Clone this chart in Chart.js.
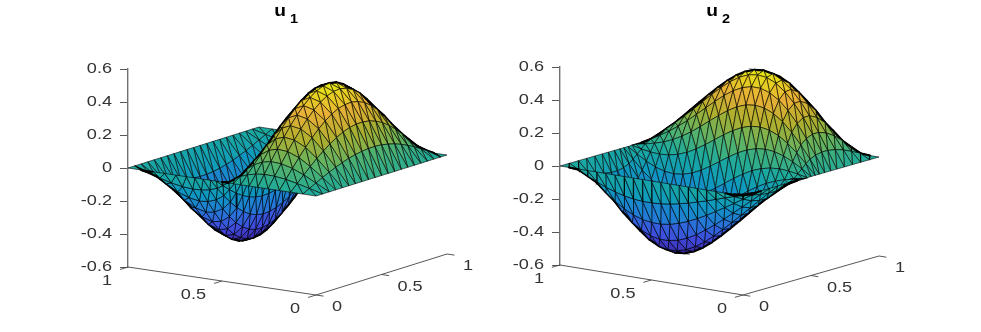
<!DOCTYPE html>
<html>
<head>
<meta charset="utf-8">
<script src="https://cdn.jsdelivr.net/npm/chart.js@4"></script>
<style>
  html, body { margin: 0; background: #fff; }
  canvas { position: absolute; top: 0; }
</style>
</head>
<body>
<canvas id="leftChart" width="490" height="332" style="left:0"></canvas>
<canvas id="rightChart" width="491" height="332" style="left:490px"></canvas>
<script>
// grid positions on the ground axes
const gridPos = [0,.05,.1,.15,.2,.25,.3,.35,.4,.45,.5,.55,.6,.65,.7,.75,.8,.85,.9,.95,1];
// same count of rows, tighter around the middle (u1 first axis, u2 second axis)
const midPos = [0,.07,.135,.195,.255,.31,.355,.4,.44,.47,.5,.53,.56,.6,.645,.69,.745,.805,.865,.93,1];
const zTicks = [-0.6,-0.4,-0.2,0,0.2,0.4,0.6];
const groundTicks = [0,0.5,1];
const groundLabels = ['0','0.5','1'];

// surface heights, one row per x position
const u1 = [
  [0,0,0,0,0,0,0,0,0,0,0,0,0,0,0,0,0,0,0,0,0],
  [0,.021,.042,.062,.082,.099,.115,.129,.139,.147,.151,.152,.149,.141,.130,.115,.096,.075,.051,.026,0],
  [0,.040,.080,.118,.155,.188,.218,.244,.265,.280,.288,.289,.283,.269,.248,.219,.184,.143,.098,.050,0],
  [0,.055,.109,.162,.212,.258,.299,.335,.364,.385,.396,.399,.390,.372,.342,.303,.255,.198,.136,.069,0],
  [0,.064,.127,.188,.246,.300,.349,.391,.426,.451,.466,.470,.461,.439,.405,.359,.302,.235,.161,.082,0],
  [0,.066,.131,.194,.254,.311,.363,.408,.445,.473,.490,.495,.487,.465,.430,.382,.322,.251,.172,.087,0],
  [0,.060,.120,.179,.236,.289,.339,.382,.419,.448,.466,.473,.467,.448,.416,.370,.313,.244,.168,.085,0],
  [0,.048,.096,.144,.191,.236,.278,.317,.351,.378,.396,.405,.403,.389,.363,.325,.276,.216,.149,.076,0],
  [0,.030,.061,.092,.124,.156,.188,.218,.246,.270,.288,.299,.302,.295,.278,.251,.215,.169,.117,.060,0],
  [0,.008,.018,.029,.042,.058,.076,.095,.115,.134,.151,.165,.173,.175,.170,.156,.136,.109,.076,.039,0],
  [0,-.015,-.029,-.040,-.048,-.050,-.048,-.040,-.029,-.015,0,.015,.029,.040,.048,.050,.048,.040,.029,.015,0],
  [0,-.039,-.076,-.109,-.136,-.156,-.170,-.175,-.173,-.165,-.151,-.134,-.115,-.095,-.076,-.058,-.042,-.029,-.018,-.008,0],
  [0,-.060,-.117,-.169,-.215,-.251,-.278,-.295,-.302,-.299,-.288,-.270,-.246,-.218,-.188,-.156,-.124,-.092,-.061,-.030,0],
  [0,-.076,-.149,-.216,-.276,-.325,-.363,-.389,-.403,-.405,-.396,-.378,-.351,-.317,-.278,-.236,-.191,-.144,-.096,-.048,0],
  [0,-.085,-.168,-.244,-.313,-.370,-.416,-.448,-.467,-.473,-.466,-.448,-.419,-.382,-.339,-.289,-.236,-.179,-.120,-.060,0],
  [0,-.087,-.172,-.251,-.322,-.382,-.430,-.465,-.487,-.495,-.490,-.473,-.445,-.408,-.363,-.311,-.254,-.194,-.131,-.066,0],
  [0,-.082,-.161,-.235,-.302,-.359,-.405,-.439,-.461,-.470,-.466,-.451,-.426,-.391,-.349,-.300,-.246,-.188,-.127,-.064,0],
  [0,-.069,-.136,-.198,-.255,-.303,-.342,-.372,-.390,-.399,-.396,-.385,-.364,-.335,-.299,-.258,-.212,-.162,-.109,-.055,0],
  [0,-.050,-.098,-.143,-.184,-.219,-.248,-.269,-.283,-.289,-.288,-.280,-.265,-.244,-.218,-.188,-.155,-.118,-.080,-.040,0],
  [0,-.026,-.051,-.075,-.096,-.115,-.130,-.141,-.149,-.152,-.151,-.147,-.139,-.129,-.115,-.099,-.082,-.062,-.042,-.021,0],
  [0,0,0,0,0,0,0,0,0,0,0,0,0,0,0,0,0,0,0,0,0]
];

const u2 = [
  [0,0,0,0,0,0,0,0,0,0,0,0,0,0,0,0,0,0,0,0,0],
  [0,-.018,-.034,-.046,-.052,-.052,-.044,-.030,-.011,.013,.037,.061,.081,.096,.104,.104,.096,.080,.057,.030,0],
  [0,-.037,-.069,-.093,-.105,-.105,-.090,-.062,-.024,.022,.071,.118,.158,.188,.204,.204,.188,.157,.113,.059,0],
  [0,-.055,-.104,-.140,-.159,-.158,-.137,-.097,-.041,.026,.097,.166,.226,.270,.295,.296,.273,.228,.164,.085,0],
  [0,-.073,-.138,-.186,-.213,-.213,-.187,-.136,-.064,.022,.114,.204,.281,.340,.372,.375,.347,.290,.208,.109,0],
  [0,-.091,-.171,-.232,-.266,-.269,-.239,-.179,-.094,.009,.120,.228,.322,.393,.433,.438,.407,.341,.245,.128,0],
  [0,-.107,-.203,-.275,-.318,-.324,-.292,-.226,-.129,-.012,.114,.238,.346,.429,.477,.485,.452,.379,.273,.143,0],
  [0,-.123,-.232,-.316,-.367,-.377,-.345,-.274,-.170,-.042,.097,.234,.354,.447,.502,.514,.481,.405,.292,.153,0],
  [0,-.136,-.258,-.353,-.411,-.426,-.395,-.322,-.213,-.077,.071,.217,.347,.448,.509,.525,.494,.417,.301,.158,0],
  [0,-.147,-.279,-.383,-.448,-.468,-.440,-.367,-.255,-.116,.037,.189,.326,.433,.500,.520,.492,.416,.302,.158,0],
  [0,-.155,-.294,-.405,-.476,-.500,-.476,-.405,-.294,-.155,0,.155,.294,.405,.476,.500,.476,.405,.294,.155,0],
  [0,-.158,-.302,-.416,-.492,-.520,-.500,-.433,-.326,-.189,-.037,.116,.255,.367,.440,.468,.448,.383,.279,.147,0],
  [0,-.158,-.301,-.417,-.494,-.525,-.509,-.448,-.347,-.217,-.071,.077,.213,.322,.395,.426,.411,.353,.258,.136,0],
  [0,-.153,-.292,-.405,-.481,-.514,-.502,-.447,-.354,-.234,-.097,.042,.170,.274,.345,.377,.367,.316,.232,.123,0],
  [0,-.143,-.273,-.379,-.452,-.485,-.477,-.429,-.346,-.238,-.114,.012,.129,.226,.292,.324,.318,.275,.203,.107,0],
  [0,-.128,-.245,-.341,-.407,-.438,-.433,-.393,-.322,-.228,-.120,-.009,.094,.179,.239,.269,.266,.232,.171,.091,0],
  [0,-.109,-.208,-.290,-.347,-.375,-.372,-.340,-.281,-.204,-.114,-.022,.064,.136,.187,.213,.213,.186,.138,.073,0],
  [0,-.085,-.164,-.228,-.273,-.296,-.295,-.270,-.226,-.166,-.097,-.026,.041,.097,.137,.158,.159,.140,.104,.055,0],
  [0,-.059,-.113,-.157,-.188,-.204,-.204,-.188,-.158,-.118,-.071,-.022,.024,.062,.090,.105,.105,.093,.069,.037,0],
  [0,-.030,-.057,-.080,-.096,-.104,-.104,-.096,-.081,-.061,-.037,-.013,.011,.030,.044,.052,.052,.046,.034,.018,0],
  [0,0,0,0,0,0,0,0,0,0,0,0,0,0,0,0,0,0,0,0,0]
];

// parula colormap stops
const parula = [
  [62,38,168],[70,80,240],[40,130,235],[15,165,210],[30,185,170],
  [100,195,110],[190,190,50],[253,190,60],[249,251,20]
];
const SHADE = 0.92;  // stands in for the much denser black mesh of the reference

function parulaColor(t) {
  const p = Math.min(Math.max(t, 0), 1) * (parula.length - 1);
  const i = Math.min(Math.floor(p), parula.length - 2);
  const c = parula[i].map((v, k) => Math.round((v + (parula[i + 1][k] - v) * (p - i)) * SHADE));
  return 'rgb(' + c.join(',') + ')';
}

const FONT = '"Liberation Sans", Arial, sans-serif';
const ZPX = 165;  // pixels per unit of height

// the reference lettering is wider than the font, so stretch it sideways
function wideText(c, text, x, y, align, sx) {
  c.save();
  c.translate(x, y);
  c.scale(sx, 1);
  c.textAlign = align;
  c.fillText(text, 0, 0);
  c.restore();
}

function drawPanel(id, cfg) {
  // corners of the ground at height 0, page pixels
  const { front, left, right, zeroY, top, bottom, canvasLeft, xs, ys } = cfg;

  const project = (x, y, z) => ({
    x: front[0] + (left[0] - front[0]) * x + (right[0] - front[0]) * y,
    y: z + (zeroY - front[1] + (front[1] - left[1]) * x + (front[1] - right[1]) * y) / ZPX
  });

  const all = cfg.rows.flat();
  const zMin = Math.min(...all), zMax = Math.max(...all);
  const vert = (a, b) => ({ a, b, z: cfg.rows[a][b], p: project(xs[a], ys[b], cfg.rows[a][b]) });

  // triangles, nearest first: chart.js paints the first dataset last
  const tris = [];
  for (let i = 0; i < xs.length - 1; i++) {
    for (let j = 0; j < ys.length - 1; j++) {
      tris.push([vert(i, j), vert(i + 1, j), vert(i + 1, j + 1)]);
      tris.push([vert(i, j), vert(i + 1, j + 1), vert(i, j + 1)]);
    }
  }

  const edgeKey = (p, q) => [p.a, p.b, q.a, q.b].join() < [q.a, q.b, p.a, p.b].join()
    ? [p.a, p.b, q.a, q.b].join() : [q.a, q.b, p.a, p.b].join();
  const last = xs.length - 1;
  const isCorner = v => (v.a === 0 || v.a === last) && (v.b === 0 || v.b === last);
  const edgeSigns = {};
  tris.forEach(t => {
    const [p0, p1, p2] = t.map(v => v.p);
    t.area = ((p1.x - p0.x) * (p2.y - p0.y) - (p2.x - p0.x) * (p1.y - p0.y)) * ZPX / 2;
    [[t[0], t[1]], [t[1], t[2]], [t[2], t[0]]].forEach(([p, q]) => {
      const k = edgeKey(p, q);
      (edgeSigns[k] = edgeSigns[k] || []).push(Math.sign(t.area));
    });
  });

  const datasets = [];
  const done = {};
  tris.forEach(t => {
    // fold edges of the surface get the heavy black outline
    [[t[0], t[1]], [t[1], t[2]], [t[2], t[0]]].forEach(([p, q]) => {
      const k = edgeKey(p, q), s = edgeSigns[k];
      if (!done[k] && s.length === 2 && s[0] !== s[1] && !isCorner(p) && !isCorner(q)) {
        done[k] = true;
        datasets.push({
          data: [p.p, q.p], showLine: true, tension: 0, pointRadius: 0, fill: false,
          borderColor: '#000', borderWidth: 2.2, borderCapStyle: 'round', clip: false
        });
      }
    });
    const mean = (t[0].z + t[1].z + t[2].z) / 3;
    const pts = t.map(v => v.p);
    datasets.push({
      data: [...pts, pts[0]],
      showLine: true,
      fill: 'shape',
      tension: 0,
      pointRadius: 0,
      backgroundColor: parulaColor((mean - zMin) / (zMax - zMin)),
      borderColor: '#000',
      borderWidth: Math.abs(t.area) < 9 ? 1.6 : 0.6,
      clip: false
    });
  });

  // ground axes with their ticks
  const axisLine = pts => ({
    data: pts, showLine: true, tension: 0, pointRadius: 0,
    borderColor: '#444', borderWidth: 0.9, clip: false, fill: false
  });
  const xOut = [(front[0] - right[0]) * 0.06, (front[1] - right[1]) * 0.06];
  const yOut = [(front[0] - left[0]) * 0.04, (front[1] - left[1]) * 0.04];
  datasets.push(axisLine([project(1, 0, -0.6), project(0, 0, -0.6), project(0, 1, -0.6)]));
  groundTicks.forEach(t => {
    const a = project(t, 0, -0.6), b = project(0, t, -0.6);
    datasets.push(axisLine([a, { x: a.x + xOut[0], y: a.y - xOut[1] / ZPX }]));
    datasets.push(axisLine([b, { x: b.x + yOut[0], y: b.y - yOut[1] / ZPX }]));
  });

  const textPlugin = {
    id: 'panelText',
    afterDraw(chart) {
      const c = chart.ctx, sx = chart.scales.x, sy = chart.scales.y;
      c.save();
      c.fillStyle = '#333';
      c.font = '14.5px ' + FONT;
      c.textBaseline = 'middle';
      zTicks.forEach(v => {
        wideText(c, String(v), left[0] - canvasLeft - 16, sy.getPixelForValue(v), 'right', 1.25);
      });
      groundTicks.forEach((t, k) => {
        const a = project(t, 0, -0.6), b = project(0, t, -0.6);
        wideText(c, groundLabels[k], sx.getPixelForValue(a.x) - 16, sy.getPixelForValue(a.y) + 13.5, 'right', 1.25);
        wideText(c, groundLabels[k], sx.getPixelForValue(b.x) + 16, sy.getPixelForValue(b.y) + 12, 'left', 1.25);
      });
      c.fillStyle = '#000';
      c.font = 'bold 16px ' + FONT;
      wideText(c, 'u', cfg.titleX - canvasLeft, 12, 'center', 1.2);
      c.font = 'bold 12px ' + FONT;
      wideText(c, cfg.sub, cfg.titleX + 14 - canvasLeft, 19.5, 'center', 1.2);
      c.restore();
    }
  };

  new Chart(document.getElementById(id).getContext('2d'), {
    type: 'scatter',
    data: { datasets },
    options: {
      responsive: false,
      animation: false,
      events: [],
      layout: { padding: { top: top, bottom: 332 - bottom, left: 0, right: 0 } },
      plugins: { legend: { display: false }, title: { display: false }, tooltip: { enabled: false } },
      scales: {
        x: { type: 'linear', display: false, min: left[0], max: canvasLeft + cfg.width },
        y: {
          type: 'linear',
          min: -0.6,
          max: 0.6,
          afterFit: s => { s.width = left[0] - canvasLeft; },
          afterBuildTicks: s => { s.ticks = zTicks.map(v => ({ value: v })); },
          border: { color: '#707070', width: 1.4 },
          grid: { drawOnChartArea: false, tickLength: 8, tickColor: '#444', tickWidth: 0.9 },
          ticks: { display: false }
        }
      }
    },
    plugins: [textPlugin]
  });
}

drawPanel('leftChart', {
  rows: u1, sub: '1', titleX: 280, canvasLeft: 0, width: 490, xs: midPos, ys: gridPos,
  front: [316, 196], left: [128, 168], right: [447, 155], zeroY: 168, top: 69, bottom: 267
});
drawPanel('rightChart', {
  rows: u2, sub: '2', titleX: 712, canvasLeft: 490, width: 491, xs: gridPos, ys: midPos,
  front: [743, 196], left: [560, 166], right: [879, 157], zeroY: 166, top: 67, bottom: 265
});
</script>
</body>
</html>
